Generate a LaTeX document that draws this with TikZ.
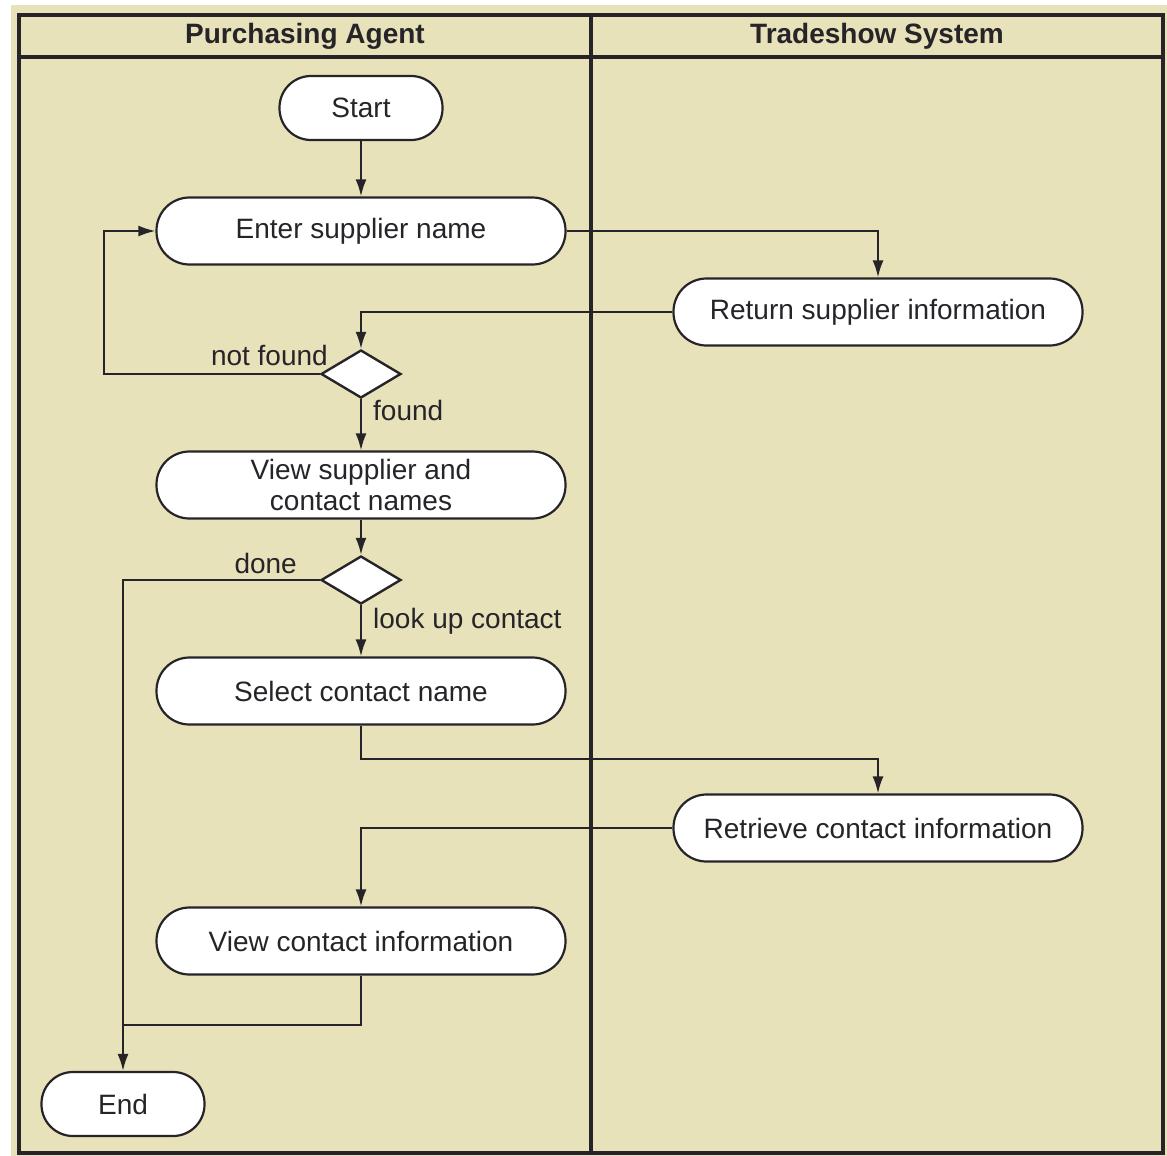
\documentclass[tikz,border=0pt]{standalone}
\usepackage{fontspec}
\setmainfont{Liberation Sans}
\usetikzlibrary{shapes.geometric,arrows.meta}
\definecolor{lanebg}{RGB}{232,226,186}
\definecolor{ink}{RGB}{38,36,40}
\begin{document}
\begin{tikzpicture}[x=1pt,y=-1pt,
  every node/.style={font=\fontsize{28}{31}\selectfont, text=ink},
  activity/.style={draw=ink, line width=2.2pt, fill=white, rounded corners=33pt,
    minimum width=409pt, minimum height=67pt, inner sep=0pt, align=center},
  terminal/.style={activity, minimum width=163pt, minimum height=64pt, rounded corners=31.5pt},
  decision/.style={draw=ink, line width=2.4pt, fill=white, diamond,
    minimum width=80pt, minimum height=48pt, inner sep=0pt},
  flow/.style={draw=ink, line width=2pt, -{Latex[length=17pt,width=11pt]}},
  plainflow/.style={draw=ink, line width=2pt},
  guard/.style={inner sep=0pt},
  lanehead/.style={font=\fontsize{28}{31}\selectfont\bfseries},
  lane/.style={draw=ink, line width=4pt}
]
\useasboundingbox (0,0) rectangle (1167,1156);
% paper and swimlane frame
\fill[white] (0,0) rectangle (1167,1156);
\fill[lanebg] (11,5) rectangle (1167,1156);
\draw[lane] (19,15) rectangle (1163,1153);
\draw[lane] (19,57) -- (1163,57);
\draw[lane] (591,15) -- (591,1153);
\node[lanehead] (hpa) at (305,36) {Purchasing Agent};
\node[lanehead] (hts) at (877,36) {Tradeshow System};

% activities
\node[terminal] (start) at (361,108) {Start};
\node[activity] (enter) at (361,231) {Enter supplier name};
\node[activity] (ret) at (878,312) {Return supplier information};
\node[decision] (d1) at (361,374) {};
\node[activity] (vsup) at (361,485) {View supplier and\\contact names};
\node[decision] (d2) at (361,580) {};
\node[activity] (sel) at (361,691) {Select contact name};
\node[activity] (retr) at (878,828) {Retrieve contact information};
\node[activity] (vcon) at (361,941) {View contact information};
\node[terminal] (endn) at (123,1104) {End};

% guards
\node[guard, anchor=base east] (gnf) at (328,365) {not found};
\node[guard, anchor=base west] (gf) at (373,420) {found};
\node[guard, anchor=base east] (gd) at (297,573) {done};
\node[guard, anchor=base west] (glc) at (373,628) {look up contact};

% bend points
\coordinate (nfcorner) at (104,374);
\coordinate (selbend) at (361,759);
\coordinate (join) at (123,1025);

% control flow
\draw[flow] (start) -- (enter);
\draw[flow] (enter.east) -| (ret.north);
\draw[flow] (ret.west) -| (d1.north);
\draw[flow] (d1.west) -- (nfcorner) |- (enter.west);
\draw[flow] (d1.south) -- (vsup.north);
\draw[flow] (vsup.south) -- (d2.north);
\draw[flow] (d2.west) -| (endn.north);
\draw[flow] (d2.south) -- (sel.north);
\draw[flow] (sel.south) -- (selbend) -| (retr.north);
\draw[flow] (retr.west) -| (vcon.north);
\draw[plainflow] (vcon.south) |- (join);
\end{tikzpicture}
\end{document}
